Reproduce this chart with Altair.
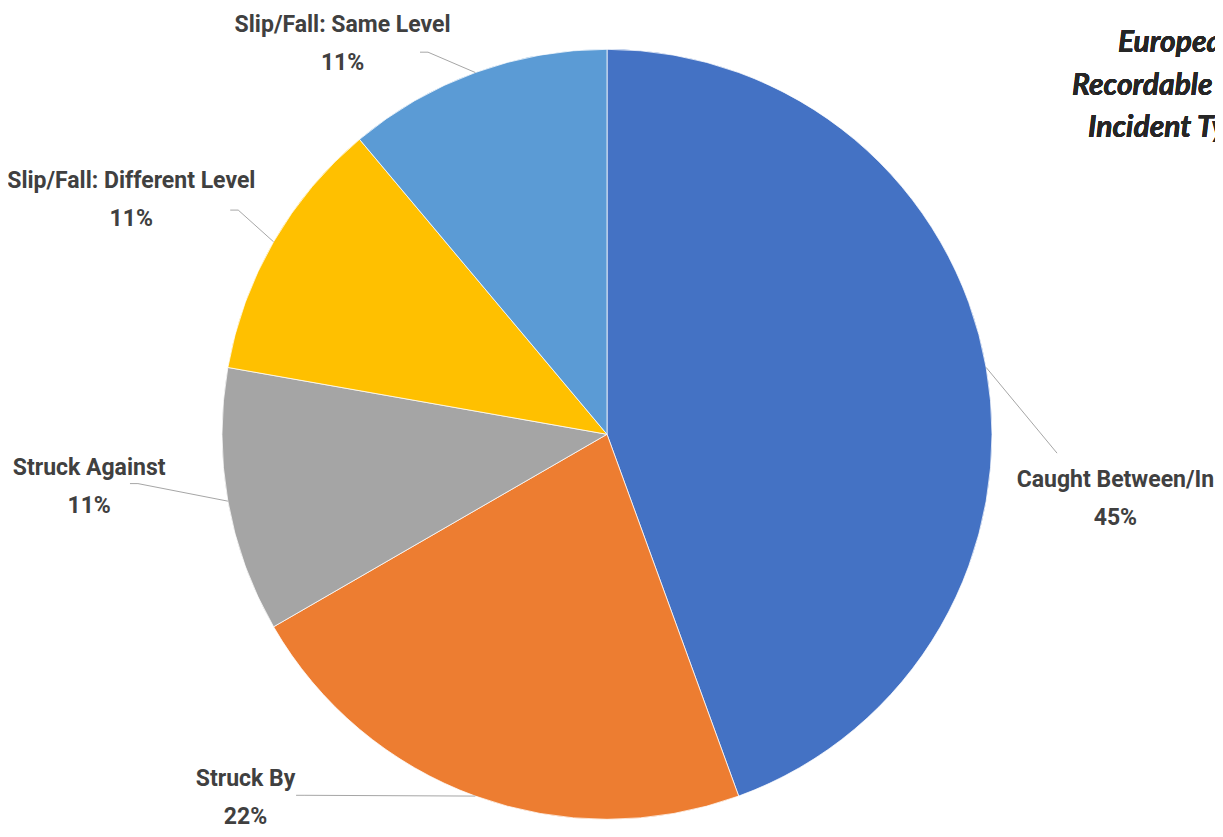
import math
import altair as alt
import pandas as pd

# ---------------- data ----------------
categories = [
    "Caught Between/In",
    "Struck By",
    "Struck Against",
    "Slip/Fall: Different Level",
    "Slip/Fall: Same Level",
]
counts = [4, 2, 1, 1, 1]
pct_labels = ["45%", "22%", "11%", "11%", "11%"]
colors = ["#4472C4", "#ED7D31", "#A5A5A5", "#FFC000", "#5B9BD5"]
title_lines = ["European", "Recordable", "Incident Type"]

# ---------------- layout ----------------
W, H = 1207, 821
CX, CY = 599.0, 426.3
R = 385
# label centres and leader elbows as (angle clockwise from 12 o'clock, radius factor)
label_polar = [(97.2, 1.331), (224.8, 1.3325), (264.2, 1.352), (296.2, 1.377), (325.9, 1.225)]
elbow_polar = [(92.4, 1.170), (220.0, 1.224), (264.0, 1.225), (301.3, 1.121), (334.9, 1.096)]
TAIL = 8
LINE_H = 38

def polar(a_deg, r):
    a = math.radians(a_deg)
    return r * math.sin(a), r * math.cos(a)

pie = pd.DataFrame({"category": categories, "value": counts, "order": range(len(categories))})

total = sum(counts)
rows_lead, rows_lab = [], []
cum = 0
for i, (cat, v, pct) in enumerate(zip(categories, counts, pct_labels)):
    mid = (cum + v / 2) / total * 360
    cum += v
    ex, ey = polar(mid, R)
    bx, by = polar(elbow_polar[i][0], elbow_polar[i][1] * R)
    tx = bx - TAIL if bx < 0 else bx
    for s, (px, py) in enumerate([(ex, ey), (bx, by), (tx, by)]):
        rows_lead.append({"category": cat, "step": s, "x": px, "y": py})
    lx, ly = polar(label_polar[i][0], label_polar[i][1] * R)
    rows_lab.append({"category": cat, "text": cat + "\n" + pct, "x": lx, "y": ly})

leaders = pd.DataFrame(rows_lead)
labels = pd.DataFrame(rows_lab)

xs = alt.Scale(domain=[-CX, W - CX], nice=False, zero=False)
ys = alt.Scale(domain=[-(H - CY), CY], nice=False, zero=False)

arcs = alt.Chart(pie).mark_arc(outerRadius=R, stroke="white", strokeWidth=0.75).encode(
    theta=alt.Theta("value:Q", stack=True),
    color=alt.Color("category:N", scale=alt.Scale(domain=categories, range=colors), legend=None),
    order=alt.Order("order:Q"),
    x=alt.value(CX),
    y=alt.value(CY),
)

lines = alt.Chart(leaders).mark_line(color="#A6A6A6", strokeWidth=1).encode(
    x=alt.X("x:Q", scale=xs, axis=None),
    y=alt.Y("y:Q", scale=ys, axis=None),
    detail="category:N",
    order="step:Q",
)

texts = alt.Chart(labels).mark_text(
    font="Roboto",
    fontSize=23,
    fontWeight="bold",
    color="#404040",
    lineBreak="\n",
    lineHeight=LINE_H,
    align="center",
    baseline="middle",
    dy=-LINE_H / 2,
).encode(
    x=alt.X("x:Q", scale=xs, axis=None),
    y=alt.Y("y:Q", scale=ys, axis=None),
    text="text:N",
)

title_x = [1110, 1064, 1080]
title_y = [44, 87, 129]
title_layers = [
    alt.Chart(pie).mark_text(
        text=t, font="Lato", fontSize=30, fontStyle="italic", fontWeight="bold",
        color="#262626", align="left", baseline="alphabetic",
    ).encode(x=alt.value(tx_), y=alt.value(ty_))
    for t, tx_, ty_ in zip(title_lines, title_x, title_y)
]

chart = alt.layer(arcs, lines, texts, *title_layers).properties(
    width=W, height=H,
    autosize=alt.AutoSizeParams(type="none"),
    padding=0,
    background="white",
).configure_view(stroke=None)

chart.save("out.html", embed_options={"renderer": "svg", "actions": False})
